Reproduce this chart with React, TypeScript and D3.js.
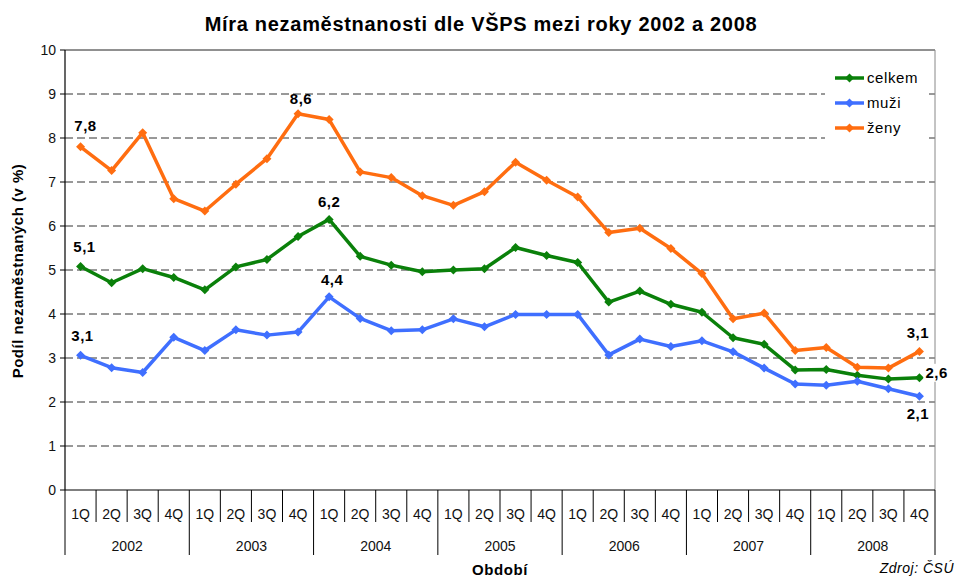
import React from "react";
import * as d3 from "d3";

const years = ["2002", "2003", "2004", "2005", "2006", "2007", "2008"];
const quarters = ["1Q", "2Q", "3Q", "4Q"];
const yTicks = [0, 1, 2, 3, 4, 5, 6, 7, 8, 9, 10];

const celkem = [5.08, 4.71, 5.03, 4.83, 4.55, 5.07, 5.24, 5.76, 6.15, 5.31, 5.11, 4.96, 5.0, 5.03, 5.51, 5.33, 5.17, 4.27, 4.52, 4.22, 4.04, 3.46, 3.31, 2.73, 2.74, 2.61, 2.52, 2.55];
const muzi = [3.06, 2.78, 2.67, 3.47, 3.17, 3.64, 3.52, 3.59, 4.39, 3.9, 3.62, 3.64, 3.89, 3.71, 3.99, 3.99, 3.99, 3.07, 3.43, 3.26, 3.39, 3.14, 2.77, 2.41, 2.38, 2.47, 2.3, 2.13];
const zeny = [7.8, 7.26, 8.12, 6.62, 6.34, 6.95, 7.53, 8.55, 8.42, 7.23, 7.1, 6.69, 6.47, 6.78, 7.45, 7.04, 6.66, 5.85, 5.95, 5.49, 4.92, 3.89, 4.02, 3.17, 3.24, 2.79, 2.77, 3.15];

const seriesNames = ["celkem", "muži", "ženy"];
const seriesColors = ["#0a800a", "#3f6fff", "#ff6d10"];
const seriesData = [celkem, muzi, zeny];

// labels: [series index, point index, text, dx, dy, anchor, white background]
const labels: [number, number, string, number, number, string, boolean][] = [
  [2, 0, "7,8", 5, -16, "middle", false],
  [0, 0, "5,1", 4, -14, "middle", false],
  [1, 0, "3,1", 2, -14, "middle", false],
  [2, 7, "8,6", 3, -10, "middle", false],
  [0, 8, "6,2", 0, -12, "middle", false],
  [1, 8, "4,4", 3, -12, "middle", false],
  [2, 27, "3,1", -1.5, -13, "middle", false],
  [0, 27, "2,6", 6, 0, "start", true],
  [1, 27, "2,1", -1.5, 23, "middle", true],
];

const font = "'Liberation Sans', Arial, sans-serif";

export default function App() {
  const W = 955, H = 578;
  const left = 65, right = 935, top = 50, bottom = 490;
  const cats = years.flatMap((y) => quarters.map((q) => y + q));
  const x = d3.scaleBand<string>().domain(cats).range([left, right]);
  const y = d3.scaleLinear().domain([0, 10]).range([bottom, top]);
  const cx = (i: number) => (x(cats[i]) as number) + x.bandwidth() / 2;
  const line = d3.line<number>().x((_, i) => cx(i)).y((d) => y(d));
  const diamond = (px: number, py: number, r: number) =>
    `M${px},${py - r}L${px + r},${py}L${px},${py + r}L${px - r},${py}Z`;

  const yearW = x.bandwidth() * 4;

  return (
    <svg width={W} height={H} style={{ position: "absolute", left: 0, top: 0, background: "#fff" }} fontFamily={font}>
      <rect width={W} height={H} fill="#fff" />
      <text x={481} y={31} textAnchor="middle" fontSize={20} fontWeight="bold" letterSpacing={0.7}>
        Míra nezaměstnanosti dle VŠPS mezi roky 2002 a 2008
      </text>
      {/* gridlines */}
      {yTicks.filter((t) => t > 0 && t < 10).map((t) => (
        <line key={t} x1={left} x2={right} y1={y(t)} y2={y(t)} stroke="#333" strokeWidth={1} strokeDasharray="8,4" />
      ))}
      {/* plot border */}
      <line x1={left} x2={right} y1={top} y2={top} stroke="#222" strokeWidth={1} />
      <line x1={right} x2={right} y1={top} y2={bottom} stroke="#888" strokeWidth={1} />
      {/* legend background */}
      <rect x={825} y={60} width={100} height={85} fill="#fff" />
      {/* y axis */}
      <line x1={left} x2={left} y1={top} y2={bottom} stroke="#000" strokeWidth={1.2} />
      {yTicks.map((t) => (
        <g key={t}>
          <line x1={left - 5} x2={left} y1={y(t)} y2={y(t)} stroke="#000" />
          <text x={left - 9} y={y(t) + 5} textAnchor="end" fontSize={14} fill="#111">{t}</text>
        </g>
      ))}
      <text transform={`translate(23,${(top + bottom) / 2 + 1}) rotate(-90)`} textAnchor="middle" fontSize={15} fontWeight="bold" letterSpacing={0.5}>
        Podíl nezaměstnaných (v %)
      </text>
      {/* x axis */}
      <line x1={left} x2={right} y1={bottom} y2={bottom} stroke="#000" strokeWidth={1.2} />
      {cats.map((c, i) => (
        <g key={c}>
          {i % 4 !== 0 && (
            <line x1={x(c) as number} x2={x(c) as number} y1={bottom} y2={522} stroke="#000" />
          )}
          <text x={cx(i)} y={519} textAnchor="middle" fontSize={14} fill="#111">{quarters[i % 4]}</text>
        </g>
      ))}
      {years.map((yr) => {
        const x0 = x(yr + "1Q") as number;
        return (
          <g key={yr}>
            <line x1={x0} x2={x0} y1={bottom} y2={555} stroke="#000" />
            <text x={x0 + yearW / 2} y={551} textAnchor="middle" fontSize={14} fill="#111">{yr}</text>
          </g>
        );
      })}
      <line x1={right} x2={right} y1={bottom} y2={555} stroke="#000" />
      <text x={500} y={575} textAnchor="middle" fontSize={15} fontWeight="bold" letterSpacing={0.6}>Období</text>
      <text x={954} y={573} textAnchor="end" fontSize={14} fontStyle="italic" letterSpacing={0.5}>Zdroj: ČSÚ</text>
      {/* series */}
      {seriesData.map((d, s) => (
        <g key={s}>
          <path d={line(d) as string} fill="none" stroke={seriesColors[s]} strokeWidth={3.5} strokeLinejoin="round" />
          {d.map((v, i) => (
            <path key={i} d={diamond(cx(i), y(v), 4.5)} fill={seriesColors[s]} />
          ))}
        </g>
      ))}
      {/* data labels */}
      {labels.map(([s, i, t, dx, dy, a, bg], k) => {
        const tx = cx(i) + dx;
        const ty = y(seriesData[s][i]) + dy;
        const bx = a === "start" ? tx - 2 : tx - 13;
        return (
          <g key={k}>
            {bg && <rect x={bx} y={ty - 14} width={26} height={18} fill="#fff" />}
            <text x={tx} y={ty} textAnchor={a as any} fontSize={15} fontWeight="bold" letterSpacing={0.5}>{t}</text>
          </g>
        );
      })}
      {/* legend */}
      {seriesNames.map((n, s) => {
        const ly = 78 + s * 25;
        return (
          <g key={n}>
            <line x1={835} x2={864} y1={ly} y2={ly} stroke={seriesColors[s]} strokeWidth={3.5} />
            <path d={diamond(849.5, ly, 4.5)} fill={seriesColors[s]} />
            <text x={867} y={ly + 5} fontSize={15} letterSpacing={0.6}>{n}</text>
          </g>
        );
      })}
    </svg>
  );
}
